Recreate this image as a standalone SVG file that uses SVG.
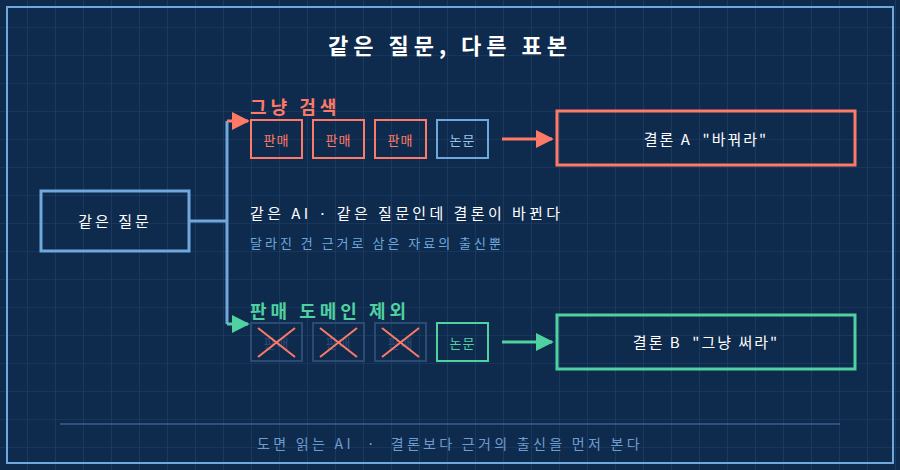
<svg xmlns="http://www.w3.org/2000/svg" width="900" height="470" viewBox="0 0 900 470">
<defs>
<pattern id="g" width="28" height="28" patternUnits="userSpaceOnUse"><path d="M28 0V28M0 28H28" fill="none" stroke="#21416c" stroke-width="1.2"/></pattern>
<marker id="ab" viewBox="0 0 10 10" refX="9" refY="5" markerWidth="6" markerHeight="6" orient="auto"><path d="M0 0L10 5L0 10z" fill="#ff7a66"/></marker>
<marker id="ag" viewBox="0 0 10 10" refX="9" refY="5" markerWidth="6" markerHeight="6" orient="auto"><path d="M0 0L10 5L0 10z" fill="#4fd1a0"/></marker>
<style>
text{font-family:"Noto Sans CJK KR","Noto Sans",sans-serif}
.box{fill:none;stroke-width:2}
.r{stroke:#ff7a66}.b{stroke:#6fa8dc}.gr{stroke:#4fd1a0}.d{stroke:#2b4a74}
.t{font-size:13px;text-anchor:middle;letter-spacing:1px}
.x{stroke:#ff7a66;stroke-width:2}
</style>
</defs>
<rect width="900" height="470" fill="#0e2a4d"/>
<rect width="900" height="470" fill="url(#g)"/>
<rect x="7" y="7" width="886" height="456" fill="none" stroke="#6fa8dc" stroke-width="2"/>
<text x="450" y="54" font-size="22" font-weight="bold" fill="#fff" text-anchor="middle" letter-spacing="5">같은 질문, 다른 표본</text>
<g id="connectors" fill="none" stroke-width="3">
<path d="M189 221H227M227 121V324" stroke="#6fa8dc"/>
<path d="M227 121H248" stroke="#ff7a66" marker-end="url(#ab)"/>
<path d="M227 324H248" stroke="#4fd1a0" marker-end="url(#ag)"/>
<path d="M502 139H552" stroke="#ff7a66" marker-end="url(#ab)"/>
<path d="M502 342H552" stroke="#4fd1a0" marker-end="url(#ag)"/>
</g>
<g id="q"><rect x="41" y="191" width="148" height="60" class="box b" style="stroke-width:3"/><text x="115" y="227" font-size="15" fill="#fff" text-anchor="middle" letter-spacing="3">같은 질문</text></g>
<text x="250" y="114" font-size="18" font-weight="bold" fill="#ff7a66" letter-spacing="4">그냥 검색</text>
<g id="s1"><rect x="251" y="120" width="51" height="38" class="box r"/><text x="276.5" y="145" class="t" fill="#ff7a66">판매</text></g>
<g id="s2"><rect x="313" y="120" width="51" height="38" class="box r"/><text x="338.5" y="145" class="t" fill="#ff7a66">판매</text></g>
<g id="s3"><rect x="375" y="120" width="51" height="38" class="box r"/><text x="400.5" y="145" class="t" fill="#ff7a66">판매</text></g>
<g id="s4"><rect x="437" y="120" width="51" height="38" class="box b"/><text x="462.5" y="145" class="t" fill="#9cc3ea">논문</text></g>
<g id="ra"><rect x="557" y="111" width="298" height="54" class="box r" style="stroke-width:3"/><text x="706" y="145" font-size="15" fill="#fff" text-anchor="middle" letter-spacing="2" xml:space="preserve">결론 A  "바꿔라"</text></g>
<text x="250" y="219" font-size="15" fill="#fff" letter-spacing="3.4">같은 AI · 같은 질문인데 결론이 바뀐다</text>
<text x="250" y="248" font-size="13" fill="#6fa8dc" letter-spacing="3">달라진 건 근거로 삼은 자료의 출신뿐</text>
<text x="250" y="318" font-size="18" font-weight="bold" fill="#4fd1a0" letter-spacing="4">판매 도메인 제외</text>
<g id="c1"><rect x="251" y="323" width="51" height="38" class="box d"/><text x="276.5" y="348" class="t" fill="#2b4a74">판매</text><path d="M258 328L295 357M295 328L258 357" class="x"/></g>
<g id="c2"><rect x="313" y="323" width="51" height="38" class="box d"/><text x="338.5" y="348" class="t" fill="#2b4a74">판매</text><path d="M320 328L357 357M357 328L320 357" class="x"/></g>
<g id="c3"><rect x="375" y="323" width="51" height="38" class="box d"/><text x="400.5" y="348" class="t" fill="#2b4a74">판매</text><path d="M382 328L419 357M419 328L382 357" class="x"/></g>
<g id="c4"><rect x="437" y="323" width="51" height="38" class="box gr"/><text x="462.5" y="348" class="t" fill="#4fd1a0">논문</text></g>
<g id="rb"><rect x="557" y="315" width="298" height="54" class="box gr" style="stroke-width:3"/><text x="706" y="348" font-size="15" fill="#fff" text-anchor="middle" letter-spacing="2" xml:space="preserve">결론 B  "그냥 써라"</text></g>
<path d="M60 424H840" stroke="#3a5f8f" stroke-width="1.5"/>
<text x="450" y="449" font-size="14" fill="#6f9cd0" text-anchor="middle" letter-spacing="3.3" xml:space="preserve">도면 읽는 AI  ·  결론보다 근거의 출신을 먼저 본다</text>
</svg>
